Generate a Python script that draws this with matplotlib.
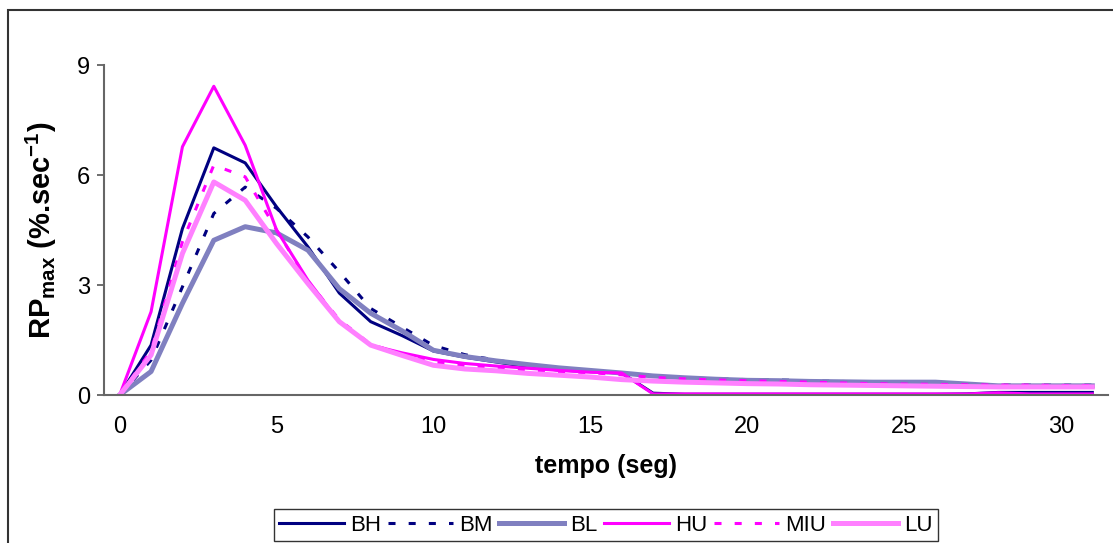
import matplotlib
matplotlib.use("Agg")
import matplotlib.pyplot as plt
from matplotlib.patches import Rectangle

plt.rcParams['font.family'] = ['Liberation Sans', 'DejaVu Sans']
plt.rcParams['mathtext.fontset'] = 'custom'
plt.rcParams['mathtext.rm'] = 'Liberation Sans'
plt.rcParams['mathtext.bf'] = 'Liberation Sans:bold'

# tempo (seg)
tempo = list(range(32))

bh = [0, 1.36, 4.54, 6.74, 6.33, 5.13, 4.04, 2.78, 2.0, 1.62, 1.2, 1.03, 0.9, 0.77, 0.68, 0.64,
      0.6, 0.05, 0.02, 0.02, 0.02, 0.02, 0.02, 0.02, 0.02, 0.02, 0.02, 0.03, 0.07, 0.07, 0.07, 0.07]
bm = [0, 0.95, 2.95, 4.95, 5.67, 5.09, 4.31, 3.36, 2.36, 1.85, 1.35, 1.1, 0.95, 0.82, 0.73, 0.65,
      0.58, 0.52, 0.47, 0.44, 0.42, 0.41, 0.39, 0.37, 0.35, 0.33, 0.31, 0.3, 0.27, 0.27, 0.27, 0.27]
bl = [0, 0.64, 2.5, 4.22, 4.59, 4.42, 3.95, 2.9, 2.23, 1.75, 1.22, 1.05, 0.93, 0.83, 0.74, 0.67,
      0.6, 0.52, 0.47, 0.43, 0.4, 0.39, 0.37, 0.36, 0.35, 0.35, 0.35, 0.3, 0.25, 0.25, 0.25, 0.25]
hu = [0, 2.27, 6.77, 8.42, 6.81, 4.5, 3.13, 2.0, 1.36, 1.15, 0.97, 0.86, 0.79, 0.73, 0.67, 0.62,
      0.6, 0.03, 0.03, 0.03, 0.03, 0.03, 0.03, 0.03, 0.03, 0.03, 0.03, 0.03, 0.06, 0.03, 0.03, 0.03]
mu = [0, 1.2, 4.18, 6.27, 5.95, 4.5, 3.1, 2.05, 1.38, 1.12, 0.9, 0.8, 0.74, 0.68, 0.64, 0.61,
      0.55, 0.48, 0.44, 0.41, 0.39, 0.37, 0.35, 0.33, 0.31, 0.3, 0.29, 0.28, 0.27, 0.27, 0.26, 0.26]
lu = [0, 1.09, 3.86, 5.81, 5.31, 4.13, 3.04, 2.0, 1.36, 1.08, 0.81, 0.71, 0.66, 0.59, 0.54, 0.49,
      0.42, 0.38, 0.35, 0.33, 0.31, 0.3, 0.28, 0.27, 0.26, 0.25, 0.24, 0.23, 0.22, 0.22, 0.22, 0.22]

x_ticks = [0, 5, 10, 15, 20, 25, 30]
y_ticks = [0, 3, 6, 9]

fig = plt.figure(figsize=(11.13, 5.43), dpi=100)
ax = fig.add_axes([104 / 1113, 1 - 395 / 543, 1004 / 1113, 330 / 543])

dash = (0, (2.3, 4.3))
ax.plot(tempo, bh, color='#000080', lw=2.2, label='BH')
ax.plot(tempo, bm, color='#000080', lw=2.2, ls=dash, label='BM')
ax.plot(tempo, bl, color='#8080C0', lw=3.6, label='BL')
ax.plot(tempo, hu, color='#FF00FF', lw=2.2, label='HU')
ax.plot(tempo, mu, color='#FF00FF', lw=2.2, ls=dash, label='MIU')
ax.plot(tempo, lu, color='#FF80FF', lw=3.6, label='LU')

ax.set_xlim(-0.5, 31.5)
ax.set_ylim(0, 9)
ax.set_xticks(x_ticks)
ax.set_yticks(y_ticks)
ax.tick_params(axis='x', length=0, pad=15, labelsize=17)
ax.tick_params(axis='y', length=5, width=1.2, color='#555555', pad=5, labelsize=17)

for side in ['top', 'right']:
    ax.spines[side].set_visible(False)
for side in ['left', 'bottom']:
    ax.spines[side].set_color('#666666')
    ax.spines[side].set_linewidth(1.5)

ax.set_xlabel('tempo (seg)', fontsize=18, fontweight='bold')
ax.xaxis.set_label_coords(0.5, -0.18)
ax.set_ylabel(r'RP$_{\mathbf{max}}$ (%.sec$^{\mathbf{-1}}$)', fontsize=21, fontweight='bold')
ax.yaxis.set_label_coords(-0.045, 0.5)

fig.legend(loc='center', bbox_to_anchor=(0.5445, 0.033), ncol=6, fontsize=16,
           frameon=True, fancybox=False, edgecolor='#333333', framealpha=1,
           handlelength=2.9, handletextpad=0.3, columnspacing=0.3, borderpad=0.25,
           borderaxespad=0)

# outer chart frame
fig.patches.append(Rectangle((8 / 1113, -0.1), 1.1, 1.1 - 10 / 543, transform=fig.transFigure,
                             fill=False, edgecolor='#333333', lw=1.5))

fig.savefig('out.png', dpi=100)
